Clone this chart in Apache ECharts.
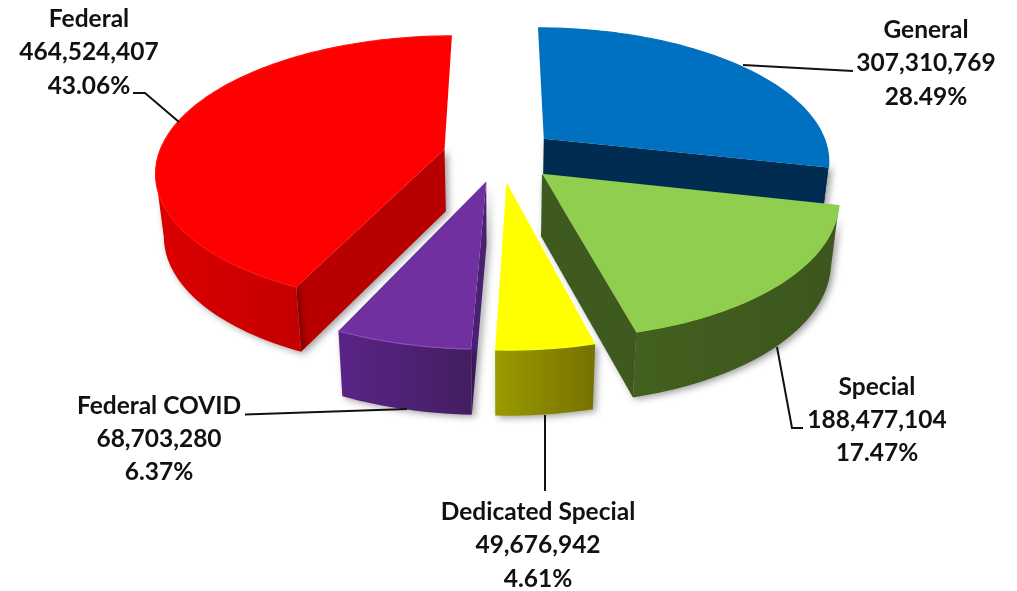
<!DOCTYPE html>
<html><head><meta charset="utf-8">
<script src="https://cdn.jsdelivr.net/npm/echarts@6/dist/echarts.min.js"></script>
<style>html,body{margin:0;padding:0;background:#fff}#c{width:1017px;height:591px}</style>
</head><body><div id="c"></div>
<script>
// --- data ---
const categories = ['General','Special','Dedicated Special','Federal COVID','Federal'];
const values = [307310769,188477104,49676942,68703280,464524407];
const shareLabels = ['28.49%','17.47%','4.61%','6.37%','43.06%'];
const valueLabels = ['307,310,769','188,477,104','49,676,942','68,703,280','464,524,407'];

// --- styling ---
const topColors = ['#0070C0','#8FCE4E','#FFFF00','#7030A0','#FF0000'];
const rimColors = ['#0070C0','#8FCE4E','#FFFF10','#8A4DB8','#FF1212'];
const wallColors = [['#002C52','#002C52'],['#42601F','#3C561D'],['#9A9A00','#767200'],['#5A2488','#431E60'],['#DC0000','#C40000']];
const faceColors = ['#002C52','#3F5A1E','#8A8A00','#4A2072','#B90000'];
const labelCenters = [[926,63.5],[877,420],[538,545.5],[159,439],[89,52.5]];
const leaders = [
  [[743,65],[853,71]],
  [[777,347],[792,428],[803,428]],
  [[545,415],[545,491]],
  [[245,414.5],[407,409]],
  [[133,93],[145,93],[179,122]]
];
// --- perspective model of the tilted pie ---
const view = {cx:500, cy:155, a:286, b:132.6, k:0.1545, explode:0.2, depth:62, shrink:0.976};
const DEG = Math.PI/180;
const total = values.reduce((s,v)=>s+v,0);
const starts = []; { let acc=0; values.forEach(v=>{starts.push(acc/total*360); acc+=v;}); }

function project(X,Y){
  const d = 1 - view.k*Y;
  return [view.cx + view.a*X/d, view.cy + view.b*Y/d];
}
function lower(p,Y){
  return [view.cx + (p[0]-view.cx)*view.shrink, p[1] + view.depth + 3*Y];
}
function rimPoint(i,deg){
  const m = (starts[i] + values[i]/total*180)*DEG;
  const ex = view.explode*Math.sin(m), ey = -view.explode*Math.cos(m);
  return {ex,ey,X:ex+Math.sin(deg*DEG),Y:ey-Math.cos(deg*DEG)};
}
function renderSlice(params, api){
  const i = params.dataIndex;
  const v = api.value(0);
  const s = starts[i], e = s + v/total*360;
  const tops=[], bots=[], ys=[];
  const n = Math.max(8,Math.round((e-s)/1.5));
  let ex,ey;
  for(let j=0;j<=n;j++){
    const r = rimPoint(i,s+(e-s)*j/n);
    ex=r.ex; ey=r.ey;
    const p = project(r.X,r.Y);
    tops.push(p); bots.push(lower(p,r.Y)); ys.push(r.Y);
  }
  const A = project(ex,ey), Ab = lower(A,ey);
  const mid = tops[Math.round(n/2)];
  const children=[];
  const shadow = {shadowBlur:7,shadowColor:'rgba(0,0,0,0.38)',shadowOffsetX:3,shadowOffsetY:2};
  // radial faces that look towards the viewer
  [0,n].forEach(idx=>{
    const R=tops[idx], b=bots[idx];
    const dx=R[0]-A[0], dy=R[1]-A[1];
    const cDown=dx, cMid=dx*(mid[1]-A[1])-dy*(mid[0]-A[0]);
    if(cDown*cMid<0 && ys[idx]>0){
      children.push({type:'polygon',shape:{points:[A,R,b,Ab]},
        style:Object.assign({fill:faceColors[i]},shadow)});
    }
  });
  // outer wall: only the part between the silhouette extremes
  let jMin=0,jMax=0;
  tops.forEach((p,j)=>{ if(p[0]<tops[jMin][0]) jMin=j; if(p[0]>tops[jMax][0]) jMax=j; });
  const from = (jMax>0&&jMax<n)?jMax:0, to=(jMin>0&&jMin<n)?jMin:n;
  const wt=tops.slice(from,to+1), wb=bots.slice(from,to+1);
  children.push({type:'polygon',shape:{points:wt.concat(wb.slice().reverse())},
    style:Object.assign({fill:new echarts.graphic.LinearGradient(0,0,1,0,[
      {offset:0,color:wallColors[i][0]},{offset:1,color:wallColors[i][1]}])},shadow)});
  // top
  children.push({type:'polygon',shape:{points:[A].concat(tops)},style:{fill:topColors[i]}});
  children.push({type:'polyline',shape:{points:tops},style:{fill:'none',stroke:rimColors[i],lineWidth:1.2}});
  return {type:'group',children};
}
function renderLabel(params, api){
  const i = params.dataIndex;
  const c = labelCenters[i];
  return {type:'group',children:[
    {type:'polyline',shape:{points:leaders[i]},style:{fill:'none',stroke:'#111',lineWidth:2}},
    {type:'text',style:{
      text:categories[i]+'\n'+valueLabels[i]+'\n'+shareLabels[i],
      x:c[0],y:c[1],align:'center',verticalAlign:'middle',
      font:'700 24.5px Lato',lineHeight:33.3,fill:'#111'}}
  ]};
}
const chart = echarts.init(document.getElementById('c'),null,{renderer:'canvas'});
chart.setOption({
  animation:false,
  backgroundColor:'#fff',
  series:[
    {type:'custom',coordinateSystem:'none',renderItem:renderSlice,
      data:values.map((v,i)=>({name:categories[i],value:[v]})),z:2},
    {type:'custom',coordinateSystem:'none',renderItem:renderLabel,
      data:values.map((v,i)=>({name:categories[i],value:[v]})),z:3}
  ]
});
</script></body></html>
